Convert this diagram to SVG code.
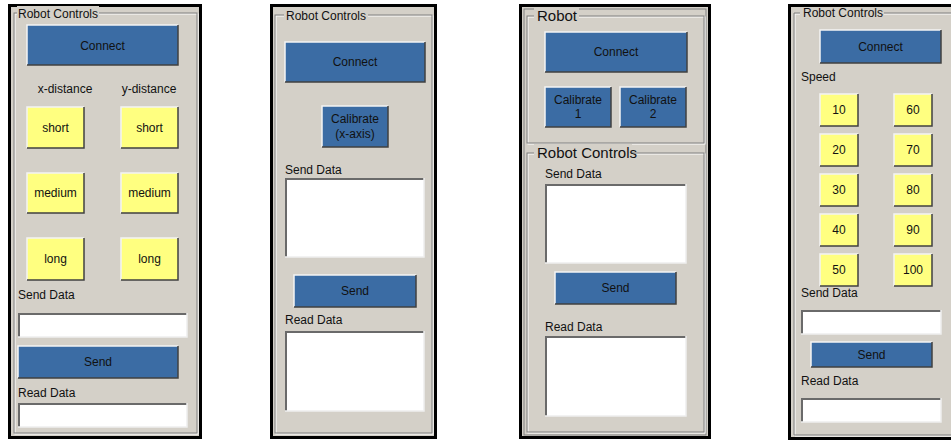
<svg xmlns="http://www.w3.org/2000/svg" width="951" height="440" viewBox="0 0 951 440">
<style>
text{font-family:"Liberation Sans",Arial,sans-serif;font-size:12px;fill:#111}
.c{text-anchor:middle}
.big{font-size:15px}
.win{fill:#d4d0c8}
.frame{fill:none;stroke:#000;stroke-width:3}
.grp{fill:none;stroke:#808080;stroke-width:1}
.grpw{fill:none;stroke:#fff;stroke-width:1}
.blue{fill:#3b6ca4}
.yel{fill:#ffff80}
.hi{fill:none;stroke:#f4f4f4;stroke-width:1.5}
.sh{fill:none;stroke:#404040;stroke-width:1.5}
.box{fill:#fff}
.bsh{fill:none;stroke:#6a6a6a;stroke-width:2}
.bhi{fill:none;stroke:#eeeeee;stroke-width:1.5}
.tbg{fill:#d4d0c8}
</style>

<!-- Panel 1 -->
<g id="panel1">
<rect class="win" x="9.5" y="5.5" width="191" height="432"/>
<rect class="frame" x="9.5" y="5.5" width="191" height="432"/>
<rect class="grpw" x="15" y="14" width="183" height="420"/>
<rect class="grp" x="14" y="13" width="183" height="420"/>
<rect class="tbg" x="17" y="6" width="82" height="14"/>
<text x="18" y="18">Robot Controls</text>
</g>
<g id="p1-connect">
<rect class="blue" x="27" y="25" width="151" height="40"/>
<path class="hi" d="M27,65V25H178"/><path class="sh" d="M27,65H178V25"/>
<text class="c" x="102.5" y="50">Connect</text>
</g>
<g id="p1-labels">
<text class="c" x="65" y="93">x-distance</text>
<text class="c" x="149" y="93">y-distance</text>
</g>
<g id="p1-xshort">
<rect class="yel" x="27" y="107" width="57" height="41"/>
<path class="hi" d="M27,148V107H84"/><path class="sh" d="M27,148H84V107"/>
<text class="c" x="55.5" y="132">short</text>
</g>
<g id="p1-yshort">
<rect class="yel" x="121" y="107" width="57" height="41"/>
<path class="hi" d="M121,148V107H178"/><path class="sh" d="M121,148H178V107"/>
<text class="c" x="149.5" y="132">short</text>
</g>
<g id="p1-xmedium">
<rect class="yel" x="27" y="173" width="57" height="40"/>
<path class="hi" d="M27,213V173H84"/><path class="sh" d="M27,213H84V173"/>
<text class="c" x="55.5" y="197">medium</text>
</g>
<g id="p1-ymedium">
<rect class="yel" x="121" y="173" width="57" height="40"/>
<path class="hi" d="M121,213V173H178"/><path class="sh" d="M121,213H178V173"/>
<text class="c" x="149.5" y="197">medium</text>
</g>
<g id="p1-xlong">
<rect class="yel" x="27" y="238" width="57" height="42"/>
<path class="hi" d="M27,280V238H84"/><path class="sh" d="M27,280H84V238"/>
<text class="c" x="55.5" y="263">long</text>
</g>
<g id="p1-ylong">
<rect class="yel" x="121" y="238" width="57" height="42"/>
<path class="hi" d="M121,280V238H178"/><path class="sh" d="M121,280H178V238"/>
<text class="c" x="149.5" y="263">long</text>
</g>
<g id="p1-senddata">
<text x="18" y="299">Send Data</text>
<rect class="box" x="18" y="313" width="169" height="24"/>
<path class="bsh" d="M19,337V314H187"/><path class="bhi" d="M18,337H187V313"/>
</g>
<g id="p1-send">
<rect class="blue" x="18" y="346" width="160" height="32"/>
<path class="hi" d="M18,378V346H178"/><path class="sh" d="M18,378H178V346"/>
<text class="c" x="98" y="366">Send</text>
</g>
<g id="p1-readdata">
<text x="18" y="397">Read Data</text>
<rect class="box" x="18" y="403" width="169" height="24"/>
<path class="bsh" d="M19,427V404H187"/><path class="bhi" d="M18,427H187V403"/>
</g>

<!-- Panel 2 -->
<g id="panel2">
<rect class="win" x="271.5" y="5.5" width="164" height="432"/>
<rect class="frame" x="271.5" y="5.5" width="164" height="432"/>
<rect class="grpw" x="276" y="16" width="157" height="418"/>
<rect class="grp" x="275" y="15" width="157" height="418"/>
<rect class="tbg" x="284" y="7" width="84" height="14"/>
<text x="286" y="20">Robot Controls</text>
</g>
<g id="p2-connect">
<rect class="blue" x="285" y="42" width="140" height="40"/>
<path class="hi" d="M285,82V42H425"/><path class="sh" d="M285,82H425V42"/>
<text class="c" x="355" y="66">Connect</text>
</g>
<g id="p2-calibrate">
<rect class="blue" x="322" y="106" width="66" height="41"/>
<path class="hi" d="M322,147V106H388"/><path class="sh" d="M322,147H388V106"/>
<text class="c" x="355" y="123">Calibrate</text>
<text class="c" x="355" y="138">(x-axis)</text>
</g>
<g id="p2-senddata">
<text x="285" y="174">Send Data</text>
<rect class="box" x="285" y="178" width="139" height="79"/>
<path class="bsh" d="M286,257V179H424"/><path class="bhi" d="M285,257H424V178"/>
</g>
<g id="p2-send">
<rect class="blue" x="294" y="275" width="122" height="32"/>
<path class="hi" d="M294,307V275H416"/><path class="sh" d="M294,307H416V275"/>
<text class="c" x="355" y="295">Send</text>
</g>
<g id="p2-readdata">
<text x="285" y="324">Read Data</text>
<rect class="box" x="285" y="331" width="139" height="80"/>
<path class="bsh" d="M286,411V332H424"/><path class="bhi" d="M285,411H424V331"/>
</g>

<!-- Panel 3 -->
<g id="panel3">
<rect class="win" x="520.5" y="5.5" width="189" height="432"/>
<rect class="frame" x="520.5" y="5.5" width="189" height="432"/>
<rect class="grp" x="524" y="9" width="182" height="426"/>
</g>
<g id="p3-robot">
<rect class="grpw" x="528" y="17" width="177" height="127"/>
<rect class="grp" x="527" y="16" width="177" height="127"/>
<rect class="tbg" x="534" y="7" width="45" height="17"/>
<text class="big" x="537" y="21">Robot</text>
</g>
<g id="p3-connect">
<rect class="blue" x="545" y="32" width="142" height="40"/>
<path class="hi" d="M545,72V32H687"/><path class="sh" d="M545,72H687V32"/>
<text class="c" x="616" y="56">Connect</text>
</g>
<g id="p3-calibrate1">
<rect class="blue" x="545" y="87" width="66" height="40"/>
<path class="hi" d="M545,127V87H611"/><path class="sh" d="M545,127H611V87"/>
<text class="c" x="578" y="104">Calibrate</text>
<text class="c" x="578" y="118">1</text>
</g>
<g id="p3-calibrate2">
<rect class="blue" x="620" y="87" width="66" height="40"/>
<path class="hi" d="M620,127V87H686"/><path class="sh" d="M620,127H686V87"/>
<text class="c" x="653" y="104">Calibrate</text>
<text class="c" x="653" y="118">2</text>
</g>
<g id="p3-controls">
<rect class="grpw" x="528" y="154" width="177" height="279"/>
<rect class="grp" x="527" y="153" width="177" height="279"/>
<rect class="tbg" x="534" y="144" width="98" height="17"/>
<text class="big" x="537" y="158">Robot Controls</text>
</g>
<g id="p3-senddata">
<text x="545" y="178">Send Data</text>
<rect class="box" x="545" y="184" width="141" height="79"/>
<path class="bsh" d="M546,263V185H686"/><path class="bhi" d="M545,263H686V184"/>
</g>
<g id="p3-send">
<rect class="blue" x="555" y="272" width="121" height="32"/>
<path class="hi" d="M555,304V272H676"/><path class="sh" d="M555,304H676V272"/>
<text class="c" x="615.5" y="292">Send</text>
</g>
<g id="p3-readdata">
<text x="545" y="331">Read Data</text>
<rect class="box" x="545" y="336" width="141" height="80"/>
<path class="bsh" d="M546,416V337H686"/><path class="bhi" d="M545,416H686V336"/>
</g>

<!-- Panel 4 -->
<g id="panel4">
<rect class="win" x="790" y="5" width="161" height="433"/>
<path class="frame" d="M951,5.5H789.5V438.5H951"/>
<path class="grpw" d="M951,14H795V436H951"/>
<path class="grp" d="M951,13H794V435H951"/>
<rect class="tbg" x="800" y="7" width="84" height="12"/>
<text x="803" y="17">Robot Controls</text>
</g>
<g id="p4-connect">
<rect class="blue" x="820" y="30" width="121" height="33"/>
<path class="hi" d="M820,63V30H941"/><path class="sh" d="M820,63H941V30"/>
<text class="c" x="880.5" y="51">Connect</text>
</g>
<g id="p4-speed"><text x="801" y="81">Speed</text></g>
<g id="p4-s10"><rect class="yel" x="820" y="94" width="38" height="32"/><path class="hi" d="M820,126V94H858"/><path class="sh" d="M820,126H858V94"/><text class="c" x="839" y="114">10</text></g>
<g id="p4-s20"><rect class="yel" x="820" y="134" width="38" height="32"/><path class="hi" d="M820,166V134H858"/><path class="sh" d="M820,166H858V134"/><text class="c" x="839" y="154">20</text></g>
<g id="p4-s30"><rect class="yel" x="820" y="174" width="38" height="32"/><path class="hi" d="M820,206V174H858"/><path class="sh" d="M820,206H858V174"/><text class="c" x="839" y="194">30</text></g>
<g id="p4-s40"><rect class="yel" x="820" y="214" width="38" height="32"/><path class="hi" d="M820,246V214H858"/><path class="sh" d="M820,246H858V214"/><text class="c" x="839" y="234">40</text></g>
<g id="p4-s50"><rect class="yel" x="820" y="254" width="38" height="32"/><path class="hi" d="M820,286V254H858"/><path class="sh" d="M820,286H858V254"/><text class="c" x="839" y="274">50</text></g>
<g id="p4-s60"><rect class="yel" x="894" y="94" width="38" height="32"/><path class="hi" d="M894,126V94H932"/><path class="sh" d="M894,126H932V94"/><text class="c" x="913" y="114">60</text></g>
<g id="p4-s70"><rect class="yel" x="894" y="134" width="38" height="32"/><path class="hi" d="M894,166V134H932"/><path class="sh" d="M894,166H932V134"/><text class="c" x="913" y="154">70</text></g>
<g id="p4-s80"><rect class="yel" x="894" y="174" width="38" height="32"/><path class="hi" d="M894,206V174H932"/><path class="sh" d="M894,206H932V174"/><text class="c" x="913" y="194">80</text></g>
<g id="p4-s90"><rect class="yel" x="894" y="214" width="38" height="32"/><path class="hi" d="M894,246V214H932"/><path class="sh" d="M894,246H932V214"/><text class="c" x="913" y="234">90</text></g>
<g id="p4-s100"><rect class="yel" x="894" y="254" width="38" height="32"/><path class="hi" d="M894,286V254H932"/><path class="sh" d="M894,286H932V254"/><text class="c" x="913" y="274">100</text></g>
<g id="p4-senddata">
<text x="801" y="297">Send Data</text>
<rect class="box" x="801" y="310" width="140" height="24"/>
<path class="bsh" d="M802,334V311H941"/><path class="bhi" d="M801,334H941V310"/>
</g>
<g id="p4-send">
<rect class="blue" x="811" y="342" width="121" height="25"/>
<path class="hi" d="M811,367V342H932"/><path class="sh" d="M811,367H932V342"/>
<text class="c" x="871.5" y="359">Send</text>
</g>
<g id="p4-readdata">
<text x="801" y="385">Read Data</text>
<rect class="box" x="801" y="398" width="140" height="24"/>
<path class="bsh" d="M802,422V399H941"/><path class="bhi" d="M801,422H941V398"/>
</g>
<g id="connectors"></g>
</svg>
